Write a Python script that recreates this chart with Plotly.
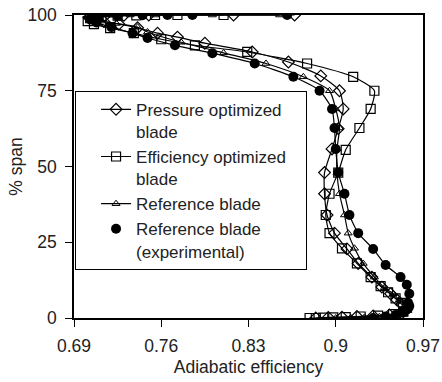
import plotly.graph_objects as go

# Pressure optimized blade (open diamonds)
press_eff = [0.884, 0.894, 0.905, 0.917, 0.930, 0.943, 0.953, 0.957, 0.953, 0.949, 0.944, 0.937,
             0.929, 0.918, 0.909, 0.899, 0.893, 0.891, 0.891, 0.897, 0.902, 0.906, 0.903, 0.888,
             0.862, 0.833, 0.795, 0.773, 0.757, 0.741, 0.726, 0.714, 0.706, 0.702, 0.705, 0.715,
             0.730, 0.750, 0.818, 0.867]
press_span = [0.0, 0.2, 0.3, 0.5, 0.7, 1.0, 1.6, 2.8, 4.5, 6.0, 8.0, 10.2,
              13.5, 18.0, 22.8, 28.0, 34.0, 41.0, 48.0, 55.8, 62.5, 69.0, 75.0, 79.9,
              84.5, 87.8, 90.7, 92.7, 94.0, 95.8, 97.0, 97.8, 98.5, 99.2, 99.6, 99.8,
              99.9, 100.0, 100.0, 100.0]

# Efficiency optimized blade (open squares)
effopt_eff = [0.879, 0.884, 0.890, 0.898, 0.908, 0.920, 0.934, 0.946, 0.954, 0.957, 0.954, 0.948,
              0.942, 0.936, 0.928, 0.917, 0.905, 0.895, 0.892, 0.895, 0.902, 0.908, 0.919, 0.928,
              0.931, 0.914, 0.877, 0.829, 0.787, 0.760, 0.738, 0.719, 0.706, 0.701, 0.703, 0.712,
              0.725, 0.740, 0.755, 0.773, 0.810]
effopt_span = [0.0, 0.0, 0.1, 0.2, 0.3, 0.5, 0.8, 1.3, 2.2, 3.5, 5.0, 6.5,
               8.5, 10.5, 13.5, 18.0, 23.0, 28.0, 34.0, 41.0, 48.0, 55.5, 62.7, 69.0,
               75.0, 79.6, 84.0, 87.8, 90.0, 92.0, 94.0, 95.7, 97.0, 98.0, 99.0, 99.6,
               99.8, 99.9, 100.0, 100.0, 100.0]

# Reference blade, CFD (open triangles)
ref_eff = [0.900, 0.912, 0.923, 0.935, 0.946, 0.955, 0.958, 0.956, 0.951, 0.946, 0.939, 0.931,
           0.922, 0.915, 0.910, 0.907, 0.903, 0.901, 0.901, 0.903, 0.900, 0.895, 0.874, 0.844,
           0.810, 0.776, 0.749, 0.741, 0.724, 0.712, 0.704, 0.701, 0.708, 0.720, 0.735, 0.755,
           0.801, 0.855]
ref_span = [0.0, 0.1, 0.2, 0.4, 0.7, 1.2, 2.5, 4.2, 6.0, 8.0, 10.0, 13.5,
            18.0, 23.0, 28.0, 34.0, 41.0, 48.0, 55.8, 62.7, 69.0, 75.0, 79.6, 84.0,
            87.5, 91.0, 94.4, 96.0, 97.2, 98.0, 98.8, 99.4, 99.8, 99.9, 100.0, 100.0,
            100.0, 100.0]

# Reference blade, experimental (filled circles)
exp_eff = [0.930, 0.940, 0.948, 0.953, 0.957, 0.959, 0.958, 0.959, 0.957, 0.952, 0.940, 0.930,
           0.918, 0.911, 0.907, 0.902, 0.900, 0.899, 0.897, 0.887, 0.866, 0.835, 0.801, 0.771,
           0.749, 0.737, 0.720, 0.708, 0.703, 0.710, 0.725, 0.745, 0.765, 0.785, 0.861]
exp_span = [0.0, 0.5, 1.0, 1.8, 2.8, 4.0, 5.0, 8.0, 11.0, 13.5, 17.5, 22.8,
            28.0, 34.0, 41.0, 48.0, 55.8, 62.7, 69.0, 75.0, 79.6, 84.0, 87.4, 90.0,
            92.4, 94.0, 96.0, 97.5, 98.5, 99.3, 99.7, 99.9, 100.0, 100.0, 100.0]

x_ticks = [0.69, 0.76, 0.83, 0.9, 0.97]
x_tick_labels = ["0.69", "0.76", "0.83", "0.9", "0.97"]
y_ticks = [0, 25, 50, 75, 100]

FONT = "Liberation Sans, Arial, sans-serif"
line_style = dict(color="black", width=1.2, shape="spline", smoothing=0.6)

fig = go.Figure()
fig.add_trace(go.Scatter(
    x=exp_eff, y=exp_span, mode="lines", line=line_style, showlegend=False, hoverinfo="skip"))
fig.add_trace(go.Scatter(
    x=press_eff, y=press_span, mode="lines+markers", name="Pressure optimized<br>blade",
    line=line_style,
    marker=dict(symbol="diamond-open", size=9, color="black", line=dict(width=1.2, color="black"))))
fig.add_trace(go.Scatter(
    x=effopt_eff, y=effopt_span, mode="lines+markers",
    name="Efficiency optimized&nbsp;&nbsp;&nbsp;<br>blade",
    line=line_style,
    marker=dict(symbol="square-open", size=9, color="black", line=dict(width=1.2, color="black"))))
fig.add_trace(go.Scatter(
    x=ref_eff, y=ref_span, mode="lines+markers", name="Reference blade",
    line=line_style,
    marker=dict(symbol="triangle-up-open", size=7, color="black", line=dict(width=1, color="black"))))
fig.add_trace(go.Scatter(
    x=exp_eff, y=exp_span, mode="markers", name="Reference blade<br>(experimental)",
    marker=dict(symbol="circle", size=10, color="black")))

fig.update_layout(
    width=442, height=382,
    margin=dict(l=74, r=19, t=15, b=64, autoexpand=False),
    paper_bgcolor="white", plot_bgcolor="white",
    font=dict(family=FONT, size=17.5, color="#222"),
    showlegend=True,
    legend=dict(
        x=0.003, y=0.75, xanchor="left", yanchor="top",
        bgcolor="white", bordercolor="black", borderwidth=1,
        font=dict(family=FONT, size=17, color="#222"),
        itemwidth=30, indentation=20, valign="top", tracegroupgap=0,
    ),
    xaxis=dict(
        range=[0.69, 0.97], tickvals=x_ticks, ticktext=x_tick_labels,
        ticks="outside", ticklen=7, tickwidth=1.2, tickcolor="black",
        showline=True, linecolor="black", linewidth=1.6, mirror=True,
        showgrid=False, zeroline=False, automargin=False, ticklabelstandoff=4,
        title=dict(text="Adiabatic efficiency", font=dict(size=17.5), standoff=6),
        tickfont=dict(size=17.5),
    ),
    yaxis=dict(
        range=[0, 100], tickvals=y_ticks,
        ticks="outside", ticklen=7, tickwidth=1.2, tickcolor="black",
        showline=True, linecolor="black", linewidth=1.6, mirror=True,
        showgrid=False, zeroline=False, automargin=False, ticklabelstandoff=5,
        title=dict(text="% span", font=dict(size=17.5), standoff=0),
        tickfont=dict(size=17.5),
    ),
)

fig.write_html("out.html")
